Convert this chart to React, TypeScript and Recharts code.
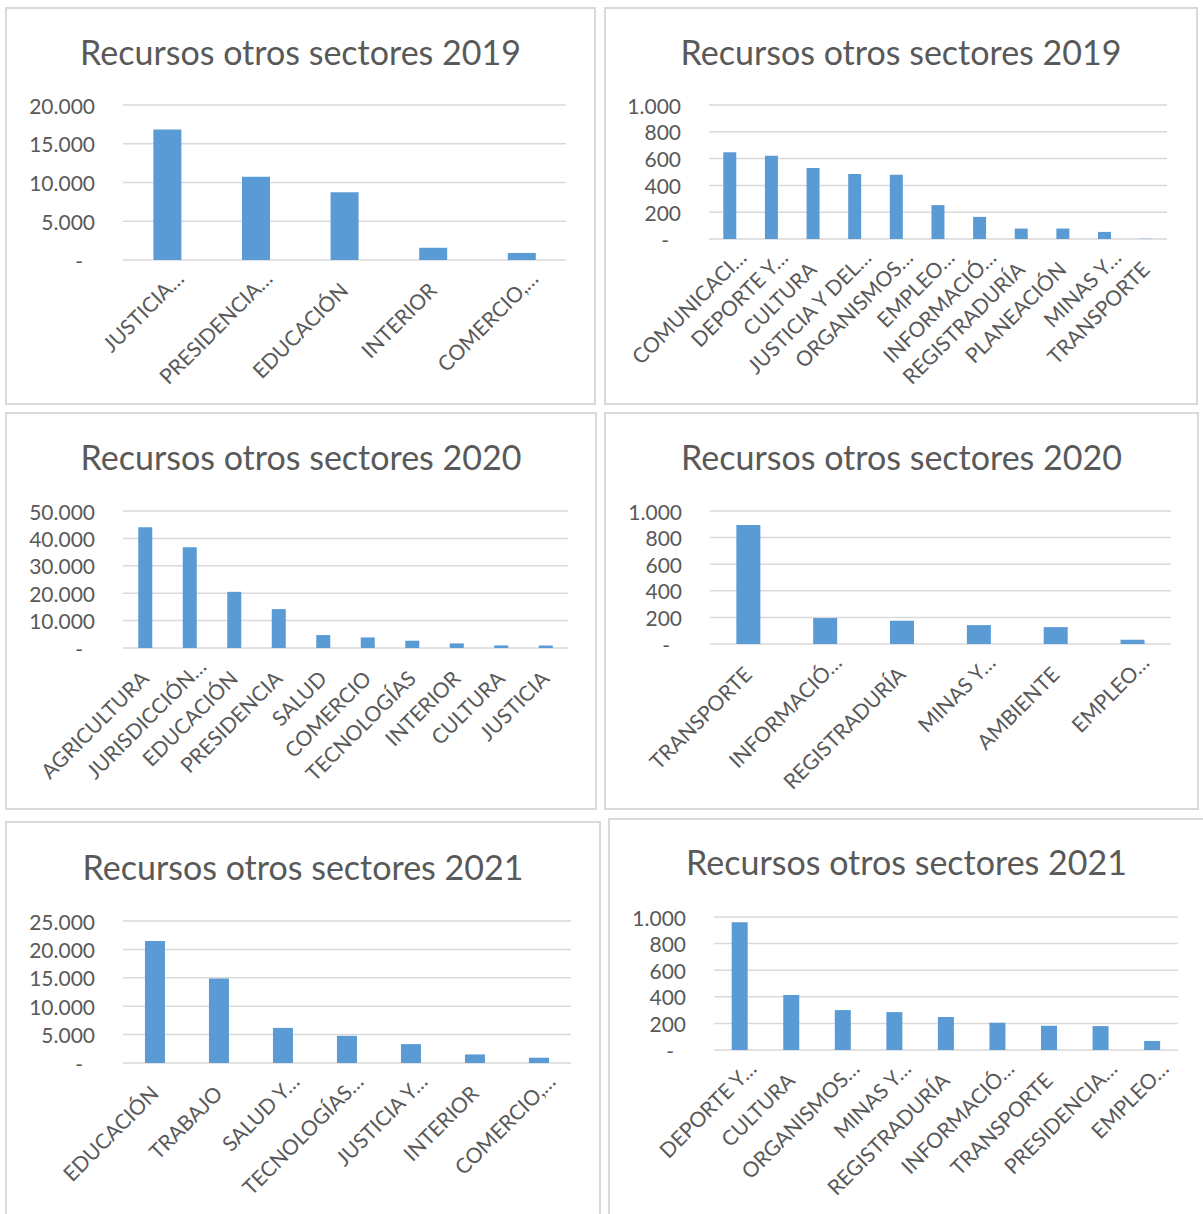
import React from 'react';
import { BarChart, Bar, XAxis, YAxis, CartesianGrid } from 'recharts';

// ---------- DATA ----------
const cats2019a = ['JUSTICIA…', 'PRESIDENCIA…', 'EDUCACIÓN', 'INTERIOR', 'COMERCIO,…'];
const vals2019a = [16830, 10750, 8730, 1580, 910];
const ticks2019a = [0, 5000, 10000, 15000, 20000];

const cats2019b = ['COMUNICACI…', 'DEPORTE Y…', 'CULTURA', 'JUSTICIA Y DEL…', 'ORGANISMOS…', 'EMPLEO…', 'INFORMACIÓ…', 'REGISTRADURÍA', 'PLANEACIÓN', 'MINAS Y…', 'TRANSPORTE'];
const vals2019b = [647, 622, 529, 486, 479, 253, 165, 78, 78, 53, 2];
const ticks2019b = [0, 200, 400, 600, 800, 1000];

const cats2020a = ['AGRICULTURA', 'JURISDICCIÓN…', 'EDUCACIÓN', 'PRESIDENCIA', 'SALUD', 'COMERCIO', 'TECNOLOGÍAS', 'INTERIOR', 'CULTURA', 'JUSTICIA'];
const vals2020a = [44060, 36780, 20500, 14200, 4730, 3860, 2660, 1680, 950, 920];
const ticks2020a = [0, 10000, 20000, 30000, 40000, 50000];

const cats2020b = ['TRANSPORTE', 'INFORMACIÓ…', 'REGISTRADURÍA', 'MINAS Y…', 'AMBIENTE', 'EMPLEO…'];
const vals2020b = [895, 195, 175, 142, 127, 32];
const ticks2020b = [0, 200, 400, 600, 800, 1000];

const cats2021a = ['EDUCACIÓN', 'TRABAJO', 'SALUD Y…', 'TECNOLOGÍAS…', 'JUSTICIA Y…', 'INTERIOR', 'COMERCIO,…'];
const vals2021a = [21480, 14890, 6180, 4780, 3330, 1510, 930];
const ticks2021a = [0, 5000, 10000, 15000, 20000, 25000];

const cats2021b = ['DEPORTE Y…', 'CULTURA', 'ORGANISMOS…', 'MINAS Y…', 'REGISTRADURÍA', 'INFORMACIÓ…', 'TRANSPORTE', 'PRESIDENCIA…', 'EMPLEO…'];
const vals2021b = [960, 413, 300, 285, 248, 205, 182, 180, 68];
const ticks2021b = [0, 200, 400, 600, 800, 1000];

const titles = [
  'Recursos otros sectores 2019',
  'Recursos otros sectores 2019',
  'Recursos otros sectores 2020',
  'Recursos otros sectores 2020',
  'Recursos otros sectores 2021',
  'Recursos otros sectores 2021',
];

// ---------- LAYOUT ----------
const FONT = "Lato, 'Open Sans', sans-serif";
const TEXT = '#595959';
const GRID = '#d9d9d9';
const BAR = '#5b9bd5';

type Panel = {
  title: string;
  cats: string[];
  vals: number[];
  ticks: number[];
  box: [number, number, number, number]; // left, top, width, height
  plot: [number, number, number, number]; // left, top, right, bottom offsets
  titleTop: number;
};

const panels: Panel[] = [
  { title: titles[0], cats: cats2019a, vals: vals2019a, ticks: ticks2019a, box: [5, 7, 591, 398], plot: [118, 98, 30, 145], titleTop: 45 },
  { title: titles[1], cats: cats2019b, vals: vals2019b, ticks: ticks2019b, box: [604, 7, 594, 398], plot: [105, 98, 31, 166], titleTop: 45 },
  { title: titles[2], cats: cats2020a, vals: vals2020a, ticks: ticks2020a, box: [5, 412, 592, 398], plot: [118, 99, 29, 162], titleTop: 45 },
  { title: titles[3], cats: cats2020b, vals: vals2020b, ticks: ticks2020b, box: [604, 412, 595, 398], plot: [106, 99, 28, 166], titleTop: 45 },
  { title: titles[4], cats: cats2021a, vals: vals2021a, ticks: ticks2021a, box: [5, 821, 596, 400], plot: [118, 100, 30, 158], titleTop: 46 },
  { title: titles[5], cats: cats2021b, vals: vals2021b, ticks: ticks2021b, box: [608, 818, 597, 400], plot: [106, 99, 27, 168], titleTop: 44 },
];

const fmt = (v: number) => (v === 0 ? '-' : String(v).replace(/\B(?=(\d{3})+(?!\d))/g, '.'));

const YTick = (props: any) => {
  const { x, y, payload } = props;
  const v = payload.value as number;
  return (
    <text
      x={v === 0 ? x - 12 : x}
      y={y}
      textAnchor="end"
      dominantBaseline="central"
      fill={TEXT}
      fontSize={21}
      fontFamily={FONT}
    >
      {fmt(v)}
    </text>
  );
};

const XTick = (props: any) => {
  const { x, y, payload } = props;
  const label = String(payload.value);
  const truncated = label.endsWith('…');
  const ox = truncated ? 12 : -1;
  const oy = truncated ? 14 : 26;
  return (
    <g transform={`translate(${x + ox},${y + oy}) rotate(-45)`}>
      <text x={0} y={0} textAnchor="end" dominantBaseline="central" fill={TEXT} fontSize={21} fontFamily={FONT}>
        {label}
      </text>
    </g>
  );
};

const PanelChart = ({ p }: { p: Panel }) => {
  const [left, top, width, height] = p.box;
  const [pl, pt, pr, pb] = p.plot;
  const data = p.cats.map((c, i) => ({ name: c, value: p.vals[i] }));
  const max = p.ticks[p.ticks.length - 1];
  return (
    <div style={{ position: 'absolute', left, top, width, height }}>
      <div
        style={{
          position: 'absolute',
          left: 0,
          top: 0,
          width,
          height,
          boxSizing: 'border-box',
          border: `2px solid ${GRID}`,
        }}
      />
      <div
        style={{
          position: 'absolute',
          left: 0,
          top: p.titleTop - 22,
          width,
          height: 44,
          lineHeight: '44px',
          textAlign: 'center',
          fontFamily: FONT,
          fontSize: 34,
          color: TEXT,
          whiteSpace: 'nowrap',
        }}
      >
        {p.title}
      </div>
      <div style={{ position: 'absolute', left: 0, top: 0 }}>
        <BarChart
          width={width}
          height={height}
          data={data}
          margin={{ top: pt, right: pr, bottom: 0, left: 0 }}
          barCategoryGap="34.3%"
        >
          <CartesianGrid vertical={false} stroke={GRID} strokeWidth={1.5} />
          <XAxis
            dataKey="name"
            interval={0}
            height={pb}
            tickLine={false}
            axisLine={false}
            tickSize={0}
            tickMargin={0}
            tick={<XTick />}
          />
          <YAxis
            width={pl}
            domain={[0, max]}
            ticks={p.ticks}
            tickLine={false}
            axisLine={false}
            tickSize={0}
            tickMargin={28}
            tick={<YTick />}
          />
          <Bar dataKey="value" fill={BAR} isAnimationActive={false} />
        </BarChart>
      </div>
    </div>
  );
};

export default function App() {
  return (
    <div
      style={{
        position: 'absolute',
        left: 0,
        top: 0,
        width: 1203,
        height: 1214,
        overflow: 'hidden',
        background: '#fff',
      }}
    >
      {panels.map((p, i) => (
        <PanelChart key={i} p={p} />
      ))}
    </div>
  );
}
